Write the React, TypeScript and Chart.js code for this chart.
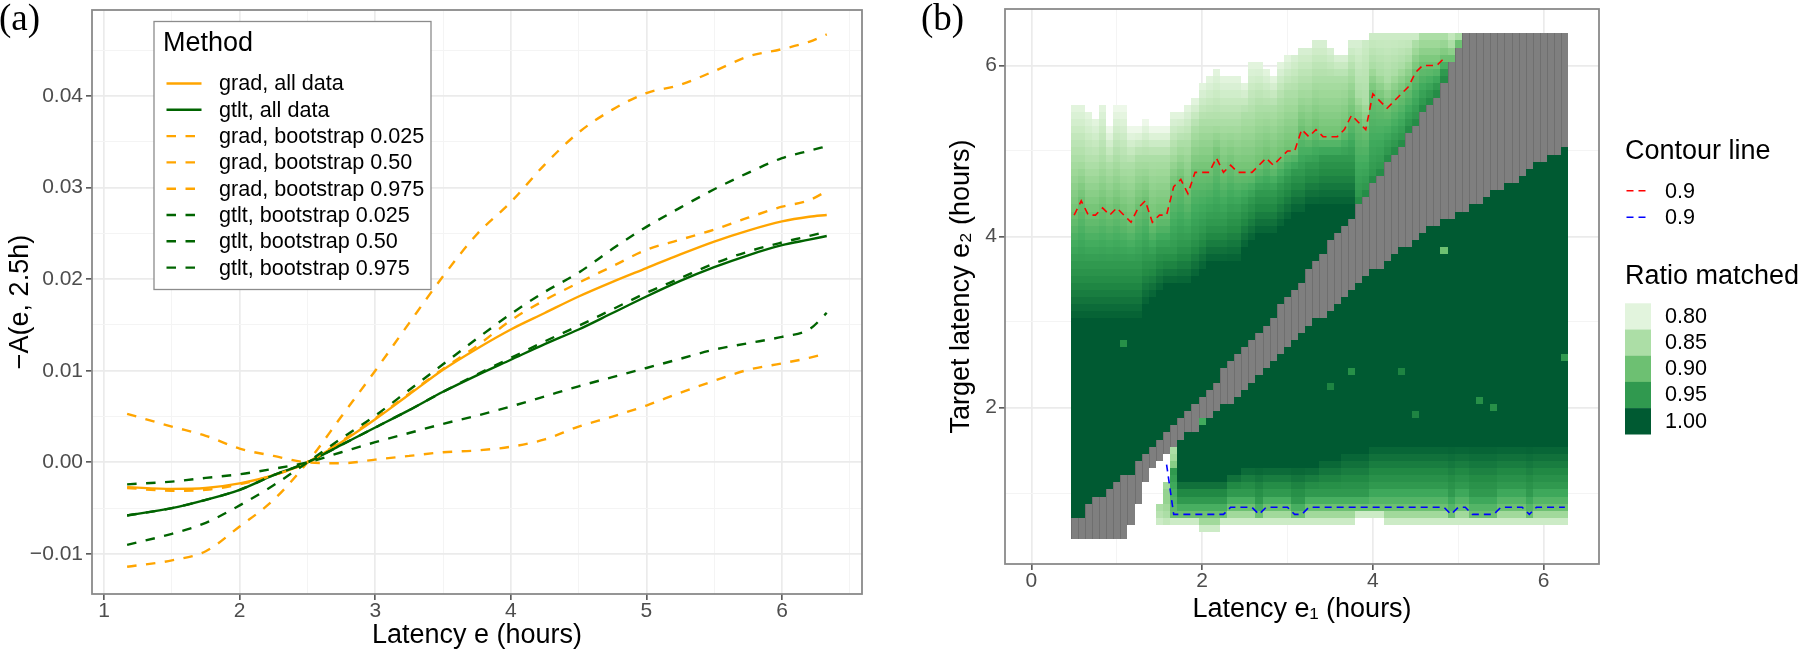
import React, { useEffect, useRef } from "react";
import { Chart, registerables } from "chart.js";

Chart.register(...registerables);

const SANS = '"Liberation Sans", Arial, Helvetica, sans-serif';
const SERIF = '"Liberation Serif", "Times New Roman", Times, serif';

// ====================== Panel (a) data ======================
const latency = [1.17, 1.5, 1.75, 2.0, 2.25, 2.5, 2.75, 3.0, 3.25, 3.5, 3.75, 4.0, 4.25, 4.5, 4.75, 5.0, 5.25, 5.5, 5.75, 6.0, 6.2, 6.33];
const gradAll = [-0.0027, -0.0029, -0.0028, -0.0023, -0.0014, 0.0, 0.0022, 0.0047, 0.0074, 0.0101, 0.0124, 0.0145, 0.0163, 0.0181, 0.0197, 0.0212, 0.0227, 0.0241, 0.0253, 0.0263, 0.0268, 0.027];
const gtltAll = [-0.0058, -0.005, -0.0041, -0.003, -0.0014, 0.0, 0.0019, 0.0038, 0.0057, 0.0077, 0.0095, 0.0112, 0.0129, 0.0145, 0.0163, 0.0181, 0.0198, 0.0213, 0.0226, 0.0237, 0.0243, 0.0247];
const gradBoot025 = [0.0053, 0.0039, 0.0029, 0.0015, 0.0007, 0.0, -0.0001, 0.0003, 0.0007, 0.0011, 0.0013, 0.0017, 0.0025, 0.0039, 0.005, 0.0062, 0.0076, 0.0089, 0.0101, 0.0108, 0.0114, 0.0119];
const gradBoot050 = [-0.0028, -0.0031, -0.003, -0.0024, -0.0014, 0.0, 0.0023, 0.0048, 0.0075, 0.0102, 0.0127, 0.0155, 0.0177, 0.0196, 0.0214, 0.0232, 0.0243, 0.0254, 0.0267, 0.0279, 0.0286, 0.0296];
const gradBoot975 = [-0.0114, -0.0107, -0.0097, -0.007, -0.0041, 0.0, 0.005, 0.01, 0.0152, 0.0203, 0.0249, 0.0284, 0.0325, 0.036, 0.0385, 0.0403, 0.0412, 0.0427, 0.0443, 0.0451, 0.0459, 0.0467];
const gtltBoot025 = [-0.0024, -0.0021, -0.0017, -0.0013, -0.0007, 0.0, 0.0011, 0.0022, 0.0032, 0.0042, 0.0051, 0.0061, 0.0072, 0.0083, 0.0093, 0.0103, 0.0113, 0.0123, 0.013, 0.0137, 0.0145, 0.0163];
const gtltBoot050 = [-0.0058, -0.005, -0.0041, -0.003, -0.0014, 0.0, 0.0019, 0.0038, 0.0057, 0.0077, 0.0096, 0.0114, 0.0132, 0.0149, 0.0167, 0.0185, 0.0201, 0.0217, 0.023, 0.024, 0.0247, 0.0252];
const gtltBoot975 = [-0.009, -0.0078, -0.0066, -0.0047, -0.0025, 0.0, 0.0026, 0.0051, 0.0079, 0.0107, 0.0135, 0.0162, 0.0186, 0.0207, 0.0233, 0.0257, 0.0278, 0.0298, 0.0316, 0.0332, 0.034, 0.0345];

const methodLabels = [
  "grad, all data",
  "gtlt, all data",
  "grad, bootstrap 0.025",
  "grad, bootstrap 0.50",
  "grad, bootstrap 0.975",
  "gtlt, bootstrap 0.025",
  "gtlt, bootstrap 0.50",
  "gtlt, bootstrap 0.975",
];
const methodSeries = [gradAll, gtltAll, gradBoot025, gradBoot050, gradBoot975, gtltBoot025, gtltBoot050, gtltBoot975];
const methodColours = ["#FFA500", "#006400", "#FFA500", "#FFA500", "#FFA500", "#006400", "#006400", "#006400"];
const methodDashed = [false, false, true, true, true, true, true, true];
const legendTitleA = "Method";

const xMajorA = [1, 2, 3, 4, 5, 6];
const xMajorLabelsA = ["1", "2", "3", "4", "5", "6"];
const xMinorA = [1.5, 2.5, 3.5, 4.5, 5.5, 6.5];
const yMajorA = [-0.01, 0, 0.01, 0.02, 0.03, 0.04];
const yMajorLabelsA = ["\u22120.01", "0.00", "0.01", "0.02", "0.03", "0.04"];
const yMinorA = [-0.005, 0.005, 0.015, 0.025, 0.035, 0.045];

// ====================== Panel (b) data ======================
const binStart = 0.5; // centre of first 5-minute bin (hours)
const binWidth = 1 / 12;
const nCols = 70;

// top row with data, per e1 column
const colTop = [60, 60, 59, 58, 60, 57, 60, 60, 57, 57, 58, 57, 57, 57, 59, 59, 60, 61, 63, 64, 65, 64, 64, 64, 63, 66, 66, 65, 64, 66, 67, 67, 68, 68, 69, 69, 68, 67, 67, 69, 69, 69, 70, 70, 70, 70, 70, 70, 70, 70, 70, 70, 70, 70, 70, 70, 70, 70, 70, 70, 70, 70, 70, 70, 70, 70, 70, 70, 70, 70];
// grey (NA) band rows, per column
const greyLow = [0, 0, 0, 0, 0, 0, 0, 0, 2, 5, 8, 10, 11, 12, 13, 14, 15, 15, 16, 17, 18, 19, 19, 20, 21, 22, 23, 24, 25, 26, 27, 28, 29, 30, 31, 31, 32, 33, 34, 35, 36, 37, 38, 38, 39, 40, 41, 41, 42, 43, 44, 44, 45, 45, 46, 46, 47, 47, 48, 49, 49, 50, 50, 51, 52, 53, 53, 54, 54, 55];
const greyHigh = [2, 2, 4, 5, 5, 6, 7, 8, 8, 10, 11, 12, 13, 14, 15, 16, 17, 18, 19, 20, 21, 23, 24, 25, 26, 27, 28, 29, 30, 32, 33, 34, 35, 37, 38, 39, 41, 42, 43, 44, 46, 47, 49, 50, 52, 53, 54, 56, 57, 59, 60, 61, 63, 66, 68, 70, 70, 70, 70, 70, 70, 70, 70, 70, 70, 70, 70, 70, 70, 70];
// upper (above grey) region: rows where ratio is ~1.00, 0.95, 0.85 and value at the top row
const upperDark = [30, 30, 30, 30, 30, 30, 30, 30, 30, 30, 32, 33, 34, 35, 35, 35, 35, 36, 37, 38, 38, 38, 38, 38, 40, 41, 42, 42, 42, 43, 44, 45, 45, 46, 46, 46, 46, 46, 46, 46, 44, 45, 47, 48, 50, 51, 52, 54, 55, 57, 58, 59, 61, 63, 65];
const upper95 = [38, 38, 38, 38, 38, 38, 38, 38, 38, 38, 39, 39, 40, 40, 40, 41, 41, 42, 43, 44, 44, 44, 45, 45, 46, 47, 48, 48, 48, 49, 50, 51, 51, 52, 52, 53, 53, 53, 53, 53, 48, 49, 51, 52, 54, 55, 56, 58, 59, 61, 62, 63, 65, 65, 67];
const upper85 = [53, 53, 52, 52, 53, 52, 53, 52, 52, 53, 53, 53, 53, 53, 54, 55, 55, 57, 58, 58, 58, 58, 58, 58, 59, 59, 60, 60, 60, 61, 62, 62, 63, 63, 64, 64, 64, 64, 64, 65, 62, 61, 66, 65, 64, 65, 66, 67, 69, 70, 70, 70, 70, 69, 70];
const upperTopValue = [0.8, 0.8, 0.8, 0.8, 0.8, 0.79, 0.79, 0.79, 0.79, 0.79, 0.79, 0.79, 0.79, 0.79, 0.8, 0.8, 0.8, 0.8, 0.8, 0.8, 0.8, 0.8, 0.8, 0.8, 0.8, 0.8, 0.8, 0.8, 0.8, 0.8, 0.8, 0.81, 0.81, 0.81, 0.81, 0.81, 0.81, 0.81, 0.81, 0.81, 0.81, 0.82, 0.82, 0.82, 0.82, 0.82, 0.82, 0.82, 0.82, 0.82, 0.82, 0.82, 0.82, 0.83, 0.84];
// red contour (0.9), target latency e2 at the centre of columns 0..52
const redContour = [4.25, 4.417, 4.25, 4.25, 4.333, 4.25, 4.333, 4.25, 4.167, 4.333, 4.417, 4.167, 4.25, 4.25, 4.583, 4.667, 4.5, 4.75, 4.75, 4.75, 4.917, 4.75, 4.833, 4.75, 4.75, 4.75, 4.833, 4.917, 4.833, 4.917, 5.0, 5.0, 5.25, 5.167, 5.25, 5.167, 5.167, 5.167, 5.25, 5.417, 5.333, 5.25, 5.667, 5.583, 5.5, 5.583, 5.667, 5.75, 5.917, 6.0, 6.0, 6.0, 6.083];
// blue contour (0.9), e2 at the centre of columns 13..69
const blueStartCol = 13;
const blueContour = [1.333, 0.75, 0.75, 0.75, 0.75, 0.75, 0.75, 0.75, 0.75, 0.833, 0.833, 0.833, 0.833, 0.75, 0.833, 0.833, 0.833, 0.833, 0.75, 0.75, 0.833, 0.833, 0.833, 0.833, 0.833, 0.833, 0.833, 0.833, 0.833, 0.833, 0.833, 0.833, 0.833, 0.833, 0.833, 0.833, 0.833, 0.833, 0.833, 0.833, 0.75, 0.833, 0.833, 0.75, 0.75, 0.75, 0.75, 0.833, 0.833, 0.833, 0.833, 0.75, 0.833, 0.833, 0.833, 0.833, 0.833];
// lower (below grey) region, columns 14..69
const lowerStartCol = 14;
const lowerBottom = [2, 2, 2, 2, 1, 1, 1, 2, 2, 2, 2, 2, 2, 2, 2, 2, 2, 2, 2, 2, 2, 2, 2, 2, 2, 2, 3, 3, 3, 3, 2, 2, 2, 2, 2, 2, 2, 2, 2, 2, 2, 2, 2, 2, 2, 2, 2, 2, 2, 2, 2, 2, 2, 2, 2, 2];
const lower95 = [9, 5, 5, 5, 5, 5, 5, 5, 6, 6, 6, 6, 5, 6, 6, 6, 6, 5, 5, 6, 6, 6, 6, 6, 6, 6, 6, 6, 7, 7, 7, 7, 7, 7, 7, 7, 7, 7, 7, 6, 7, 7, 6, 6, 6, 6, 7, 7, 7, 7, 6, 7, 7, 7, 7, 7];
const lowerDark = [16, 8, 8, 8, 8, 8, 8, 8, 9, 9, 10, 10, 10, 10, 10, 10, 10, 10, 10, 10, 10, 11, 11, 11, 12, 12, 12, 12, 13, 13, 13, 13, 13, 13, 13, 13, 13, 13, 13, 13, 13, 13, 13, 13, 13, 13, 13, 13, 13, 13, 13, 13, 13, 13, 13, 13];
// individual cells: [column, row, ratio]
const extraCells: [number, number, number][] = [
  [12, 2, 0.82], [12, 3, 0.84], [12, 4, 0.85],
  [13, 2, 0.83], [13, 3, 0.85], [13, 4, 0.86], [13, 5, 0.87], [13, 6, 0.87], [13, 7, 0.86],
  [14, 10, 0.88], [14, 11, 0.86], [14, 12, 0.85],
  [52, 40, 0.9], [69, 25, 0.95], [59, 18, 0.96], [57, 19, 0.96], [48, 17, 0.97],
  [39, 23, 0.96], [36, 21, 0.97], [46, 23, 0.97], [7, 27, 0.96], [18, 16, 0.93],
];

const xMajorB = [0, 2, 4, 6];
const xMajorLabelsB = ["0", "2", "4", "6"];
const xMinorB = [1, 3, 5];
const yMajorB = [2, 4, 6];
const yMajorLabelsB = ["2", "4", "6"];
const yMinorB = [1, 3, 5];

const contourLabels = ["0.9", "0.9"];
const contourTitle = "Contour line";
const ratioTitle = "Ratio matched";
const ratioLegendValues = [0.8, 0.85, 0.9, 0.95, 1.0];
const ratioLegendLabels = ["0.80", "0.85", "0.90", "0.95", "1.00"];

const fillPalette = ["#EDF8E9", "#C7E9C0", "#A1D99B", "#74C476", "#41AB5D", "#238B45", "#005A32"];
const fillLimits = [0.79, 1.0];
const naColour = "#7F7F7F";

// ====================== helpers ======================
function mixHex(a: string, b: string, f: number) {
  const pa = [1, 3, 5].map((i) => parseInt(a.slice(i, i + 2), 16));
  const pb = [1, 3, 5].map((i) => parseInt(b.slice(i, i + 2), 16));
  const c = pa.map((v, i) => Math.round(v + (pb[i] - v) * f));
  return `rgb(${c[0]},${c[1]},${c[2]})`;
}
function fillColour(v: number) {
  const t = Math.min(1, Math.max(0, (v - fillLimits[0]) / (fillLimits[1] - fillLimits[0])));
  const s = t * (fillPalette.length - 1);
  const k = Math.min(fillPalette.length - 2, Math.floor(s));
  return mixHex(fillPalette[k], fillPalette[k + 1], s - k);
}
const rowOf = (e2: number) => Math.round((e2 - binStart) / binWidth);
function piecewise(knots: [number, number][], r: number) {
  if (r <= knots[0][0]) return knots[0][1];
  for (let k = 1; k < knots.length; k++) {
    const [r0, v0] = knots[k - 1];
    const [r1, v1] = knots[k];
    if (r <= r1) return r1 === r0 ? v1 : v0 + ((v1 - v0) * (r - r0)) / (r1 - r0);
  }
  return knots[knots.length - 1][1];
}

type Cell = { col: number; row: number; value: number | null };
function buildCells(): Cell[] {
  const grid = new Map<string, Cell>();
  const put = (col: number, row: number, value: number | null) => grid.set(col + ":" + row, { col, row, value });
  for (let i = 0; i < nCols; i++) {
    if (i < upperDark.length) {
      const k90 = i < redContour.length ? rowOf(redContour[i]) : greyHigh[i] + 1;
      const knots: [number, number][] = [
        [upperDark[i], 1],
        [upper95[i], 0.95],
        [k90, 0.9],
        [upper85[i], 0.85],
        [colTop[i], upperTopValue[i]],
      ];
      for (let r = greyHigh[i] + 1; r <= colTop[i]; r++) put(i, r, piecewise(knots, r));
    }
    if (i >= lowerStartCol) {
      const k = i - lowerStartCol;
      const blueRow = rowOf(blueContour[i - blueStartCol]);
      const knots: [number, number][] = [
        [lowerBottom[k], 0.82],
        [blueRow, 0.9],
        [lower95[k], 0.95],
        [lowerDark[k], 1],
      ];
      for (let r = lowerBottom[k]; r < greyLow[i]; r++) put(i, r, piecewise(knots, r));
    }
    for (let r = greyLow[i]; r <= greyHigh[i]; r++) put(i, r, null);
  }
  for (const [c, r, v] of extraCells) put(c, r, v);
  return Array.from(grid.values());
}
const heatCells = buildCells();

function gridAxis(cfg: {
  min: number; max: number; major: number[]; labels: string[]; minor: number[];
  title: string; titlePad: number; size: number; horizontal: boolean; tickPad: number;
}) {
  const isMajor = (v: number) => cfg.major.some((m) => Math.abs(m - v) < 1e-9);
  return {
    type: "linear",
    min: cfg.min,
    max: cfg.max,
    afterBuildTicks: (scale: any) => {
      scale.ticks = [...cfg.major, ...cfg.minor]
        .filter((v) => v >= cfg.min && v <= cfg.max)
        .sort((a, b) => a - b)
        .map((v) => ({ value: v }));
    },
    afterFit: (scale: any) => {
      if (cfg.horizontal) {
        scale.height = cfg.size;
        scale.paddingLeft = 0;
        scale.paddingRight = 0;
      } else {
        scale.width = cfg.size;
        scale.paddingTop = 0;
        scale.paddingBottom = 0;
      }
    },
    ticks: {
      autoSkip: false,
      maxRotation: 0,
      minRotation: 0,
      padding: cfg.tickPad,
      color: "#4D4D4D",
      font: { family: SANS, size: 21, lineHeight: 1 },
      callback: (v: number) => {
        const k = cfg.major.findIndex((m) => Math.abs(m - v) < 1e-9);
        return k >= 0 ? cfg.labels[k] : "";
      },
    },
    grid: {
      color: (c: any) => (isMajor(c.tick?.value) ? "#EBEBEB" : "#F4F4F4"),
      lineWidth: (c: any) => (isMajor(c.tick?.value) ? 1.7 : 1.0),
      tickColor: (c: any) => (isMajor(c.tick?.value) ? "#555555" : "rgba(0,0,0,0)"),
      tickLength: 6,
      tickWidth: 1.6,
      drawTicks: true,
      drawOnChartArea: true,
    },
    border: { display: false },
    title: {
      display: true,
      text: cfg.title,
      color: "#000000",
      font: { family: SANS, size: 27 },
      padding: cfg.horizontal ? { top: 0, bottom: cfg.titlePad } : { top: cfg.titlePad, bottom: 0 },
    },
  };
}

const framePlugin = {
  id: "frame",
  afterDatasetsDraw(chart: any) {
    const { ctx, chartArea: a } = chart;
    ctx.save();
    ctx.strokeStyle = "#8A8A8A";
    ctx.lineWidth = 1.8;
    ctx.strokeRect(a.left, a.top, a.right - a.left, a.bottom - a.top);
    ctx.restore();
  },
};

function panelLabel(text: string, x: number) {
  return {
    id: "panelLabel" + text,
    afterDraw(chart: any) {
      const ctx = chart.ctx;
      ctx.save();
      ctx.fillStyle = "#000";
      ctx.font = `37px ${SERIF}`;
      ctx.textBaseline = "alphabetic";
      ctx.textAlign = "left";
      ctx.fillText(text, x, 30);
      ctx.restore();
    },
  };
}

const legendPluginA = {
  id: "legendA",
  afterDatasetsDraw(chart: any) {
    const ctx = chart.ctx;
    const bx = 154, by = 21.5, bw = 277, bh = 268;
    ctx.save();
    ctx.fillStyle = "#FFFFFF";
    ctx.fillRect(bx, by, bw, bh);
    ctx.strokeStyle = "#8C8C8C";
    ctx.lineWidth = 1.3;
    ctx.strokeRect(bx, by, bw, bh);
    ctx.fillStyle = "#000";
    ctx.textBaseline = "middle";
    ctx.textAlign = "left";
    ctx.font = `27px ${SANS}`;
    ctx.fillText(legendTitleA, 163, 44);
    ctx.font = `21.6px ${SANS}`;
    chart.data.datasets.forEach((ds: any, i: number) => {
      const y = 83.5 + i * 26.3;
      ctx.strokeStyle = ds.borderColor;
      ctx.lineWidth = ds.borderWidth;
      ctx.setLineDash(ds.borderDash || []);
      ctx.beginPath();
      ctx.moveTo(166.5, y);
      ctx.lineTo(201.5, y);
      ctx.stroke();
      ctx.setLineDash([]);
      ctx.fillText(ds.label, 219, y + 1);
    });
    ctx.restore();
  },
};

const heatmapPlugin = {
  id: "heatmap",
  beforeDatasetsDraw(chart: any) {
    const { ctx, chartArea: a, scales } = chart;
    const xs = scales.x, ys = scales.y;
    ctx.save();
    ctx.beginPath();
    ctx.rect(a.left, a.top, a.right - a.left, a.bottom - a.top);
    ctx.clip();
    const seams: number[][] = [];
    for (const c of heatCells) {
      const xl = Math.round(xs.getPixelForValue(binStart + (c.col - 0.5) * binWidth));
      const xr = Math.round(xs.getPixelForValue(binStart + (c.col + 0.5) * binWidth));
      const yt = Math.round(ys.getPixelForValue(binStart + (c.row + 0.5) * binWidth));
      const yb = Math.round(ys.getPixelForValue(binStart + (c.row - 0.5) * binWidth));
      ctx.fillStyle = c.value === null ? naColour : fillColour(c.value);
      ctx.fillRect(xl, yt, xr - xl, yb - yt);
      if (c.value === null) seams.push([xl, yt, yb]);
    }
    ctx.strokeStyle = "rgba(0,0,0,0.12)";
    ctx.lineWidth = 1;
    for (const [x, yt, yb] of seams) {
      ctx.beginPath();
      ctx.moveTo(x + 0.5, yt);
      ctx.lineTo(x + 0.5, yb);
      ctx.stroke();
    }
    ctx.restore();
  },
};

const legendPluginB = {
  id: "legendB",
  afterDraw(chart: any) {
    const ctx = chart.ctx;
    ctx.save();
    ctx.fillStyle = "#000";
    ctx.textBaseline = "middle";
    ctx.textAlign = "left";
    ctx.font = `27px ${SANS}`;
    ctx.fillText(contourTitle, 745, 152);
    ctx.font = `21.6px ${SANS}`;
    chart.data.datasets.forEach((ds: any, i: number) => {
      const y = 190.7 + i * 26.6;
      ctx.strokeStyle = ds.borderColor;
      ctx.lineWidth = ds.borderWidth;
      ctx.setLineDash(ds.borderDash || []);
      ctx.beginPath();
      ctx.moveTo(746.5, y);
      ctx.lineTo(768.5, y);
      ctx.stroke();
      ctx.setLineDash([]);
      ctx.fillText(ds.label, 785, y + 1);
    });
    ctx.font = `27px ${SANS}`;
    ctx.fillText(ratioTitle, 745, 277);
    ctx.font = `21.6px ${SANS}`;
    ratioLegendValues.forEach((v, k) => {
      const y0 = 303.3 + k * 26.2;
      ctx.fillStyle = fillColour(v);
      ctx.fillRect(745, y0, 26, 26.4);
      ctx.fillStyle = "#000";
      ctx.fillText(ratioLegendLabels[k], 785, y0 + 13.6);
    });
    ctx.restore();
  },
};

function configA(): any {
  return {
    type: "line",
    data: {
      datasets: methodSeries.map((vals, i) => ({
        label: methodLabels[i],
        data: latency.map((x, k) => ({ x, y: vals[k] })),
        borderColor: methodColours[i],
        backgroundColor: methodColours[i],
        borderWidth: 2.4,
        borderDash: methodDashed[i] ? [9.5, 9.5] : [],
        pointRadius: 0,
        fill: false,
        cubicInterpolationMode: "monotone",
        order: methodSeries.length - 1 - i,
      })),
    },
    options: {
      animation: false,
      responsive: false,
      maintainAspectRatio: false,
      devicePixelRatio: 1,
      layout: { padding: { left: 0, right: 18, top: 10, bottom: 0 } },
      plugins: { legend: { display: false }, tooltip: { enabled: false } },
      scales: {
        x: gridAxis({ min: 0.911, max: 6.59, major: xMajorA, labels: xMajorLabelsA, minor: xMinorA, title: "Latency e (hours)", titlePad: 0, size: 58, horizontal: true, tickPad: 1 }),
        y: gridAxis({ min: -0.01437, max: 0.04937, major: yMajorA, labels: yMajorLabelsA, minor: yMinorA, title: "\u2212A(e, 2.5h)", titlePad: 4, size: 92, horizontal: false, tickPad: 3 }),
      },
    },
    plugins: [framePlugin, legendPluginA, panelLabel("(a)", -1)],
  };
}

function configB(): any {
  return {
    type: "line",
    data: {
      datasets: [
        {
          label: contourLabels[0],
          data: redContour.map((y, i) => ({ x: binStart + i * binWidth, y })),
          borderColor: "#FF0000",
          borderWidth: 1.6,
          borderDash: [7, 5],
          pointRadius: 0,
          fill: false,
          tension: 0,
        },
        {
          label: contourLabels[1],
          data: blueContour.map((y, k) => ({ x: binStart + (k + blueStartCol) * binWidth, y })),
          borderColor: "#0000FF",
          borderWidth: 1.6,
          borderDash: [7, 5],
          pointRadius: 0,
          fill: false,
          tension: 0,
        },
      ],
    },
    options: {
      animation: false,
      responsive: false,
      maintainAspectRatio: false,
      devicePixelRatio: 1,
      layout: { padding: { left: 0, right: 201, top: 9, bottom: 0 } },
      plugins: { legend: { display: false }, tooltip: { enabled: false } },
      scales: {
        x: gridAxis({ min: -0.31, max: 6.65, major: xMajorB, labels: xMajorLabelsB, minor: xMinorB, title: "Latency e\u2081 (hours)", titlePad: 26, size: 88, horizontal: true, tickPad: 1 }),
        y: gridAxis({ min: 0.17, max: 6.66, major: yMajorB, labels: yMajorLabelsB, minor: yMinorB, title: "Target latency e\u2082 (hours)", titlePad: 65, size: 125, horizontal: false, tickPad: 2 }),
      },
    },
    plugins: [heatmapPlugin, framePlugin, legendPluginB, panelLabel("(b)", 41)],
  };
}

export default function App() {
  const aRef = useRef<HTMLCanvasElement>(null);
  const bRef = useRef<HTMLCanvasElement>(null);
  useEffect(() => {
    const ca = new Chart(aRef.current as HTMLCanvasElement, configA());
    const cb = new Chart(bRef.current as HTMLCanvasElement, configB());
    return () => {
      ca.destroy();
      cb.destroy();
    };
  }, []);
  return (
    <div style={{ position: "absolute", left: 0, top: 0, width: 1800, height: 652, background: "#FFFFFF", overflow: "hidden" }}>
      <canvas ref={aRef} width={880} height={652} style={{ position: "absolute", left: 0, top: 0, width: 880, height: 652 }} />
      <canvas ref={bRef} width={920} height={652} style={{ position: "absolute", left: 880, top: 0, width: 920, height: 652 }} />
    </div>
  );
}
